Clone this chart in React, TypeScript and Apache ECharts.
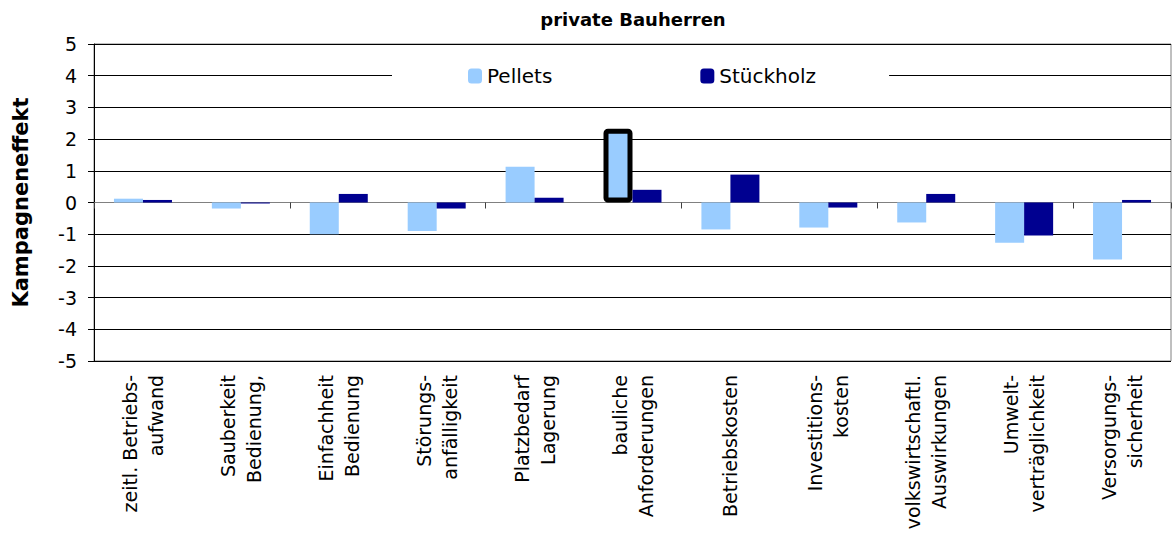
import React, { useEffect, useRef } from "react";
import * as echarts from "echarts";

const categories = [
  "zeitl. Betriebs-\naufwand",
  "Sauberkeit\nBedienung,",
  "Einfachheit\nBedienung",
  "Störungs-\nanfälligkeit",
  "Platzbedarf\nLagerung",
  "bauliche\nAnforderungen",
  "Betriebskosten",
  "Investitions-\nkosten",
  "volkswirtschaftl.\nAuswirkungen",
  "Umwelt-\nverträglichkeit",
  "Versorgungs-\nsicherheit",
];
const pellets = [0.12, -0.19, -1.0, -0.9, 1.13, 2.33, -0.85, -0.79, -0.63, -1.27, -1.8];
const stueckholz = [0.08, -0.03, 0.27, -0.19, 0.15, 0.4, 0.88, -0.16, 0.27, -1.04, 0.08];
const highlightedIndex = 5;
const seriesNames = ["Pellets", "Stückholz"];
const title = "private Bauherren";
const yAxisTitle = "Kampagneneffekt";

const FONT = "Verdana, 'DejaVu Sans', sans-serif";

export default function App() {
  const ref = useRef<HTMLDivElement>(null);
  useEffect(() => {
    if (!ref.current) return;
    const chart = echarts.init(ref.current, undefined, { renderer: "svg" });
    chart.setOption({
      animation: false,
      textStyle: { fontFamily: FONT },
      graphic: [
        {
          type: "text",
          x: 633,
          y: 19,
          style: {
            text: title,
            textAlign: "center",
            textVerticalAlign: "middle",
            font: `bold 18px ${FONT}`,
            fill: "#000",
          },
        },
      ],
      legend: {
        left: 392,
        top: 60,
        padding: [6, 73, 6, 76],
        backgroundColor: "#fff",
        itemWidth: 14,
        itemHeight: 15,
        itemGap: 148,
        textStyle: { fontSize: 20, color: "#000", fontFamily: FONT },
        data: seriesNames,
      },
      grid: {
        left: 94,
        top: 44,
        right: 2,
        bottom: 182,
        show: true,
        borderColor: "#808080",
        borderWidth: 1,
        containLabel: false,
      },
      xAxis: [
        {
          type: "category",
          data: categories,
          position: "bottom",
          axisLine: { show: true, onZero: true, lineStyle: { color: "#808080", width: 1 } },
          axisTick: { show: true, length: 6, inside: false, lineStyle: { color: "#404040" } },
          axisLabel: { show: false },
          splitLine: { show: false },
        },
        {
          type: "category",
          data: categories,
          position: "bottom",
          axisLine: { show: false, onZero: false },
          axisTick: { show: false },
          axisLabel: {
            show: true,
            rotate: 90,
            interval: 0,
            margin: 14,
            fontSize: 19,
            lineHeight: 26,
            color: "#000",
            fontFamily: FONT,
          },
        },
      ],
      yAxis: {
        type: "value",
        min: -5,
        max: 5,
        interval: 1,
        name: yAxisTitle,
        nameLocation: "middle",
        nameRotate: 90,
        nameGap: 63,
        nameTextStyle: { fontSize: 21, fontWeight: "bold", color: "#000", fontFamily: FONT },
        axisLine: { show: true, lineStyle: { color: "#000", width: 1 } },
        axisTick: { show: true, length: 6, lineStyle: { color: "#000" } },
        axisLabel: { fontSize: 19, color: "#000", margin: 17, fontFamily: FONT },
        splitLine: { show: true, lineStyle: { color: "#000", width: 1 } },
      },
      series: [
        {
          name: seriesNames[0],
          type: "bar",
          xAxisIndex: 0,
          barWidth: 29,
          barGap: "0%",
          itemStyle: { color: "#99CCFF" },
          data: pellets.map((v, i) =>
            i === highlightedIndex
              ? { value: v, itemStyle: { borderColor: "#000", borderWidth: 5, borderRadius: 2 } }
              : v
          ),
        },
        {
          name: seriesNames[1],
          type: "bar",
          xAxisIndex: 0,
          barWidth: 29,
          barGap: "0%",
          itemStyle: { color: "#000090" },
          data: stueckholz,
        },
      ],
    });
    return () => chart.dispose();
  }, []);
  return (
    <div
      ref={ref}
      style={{ position: "fixed", left: 0, top: 0, width: 1173, height: 543, background: "#fff" }}
    />
  );
}
